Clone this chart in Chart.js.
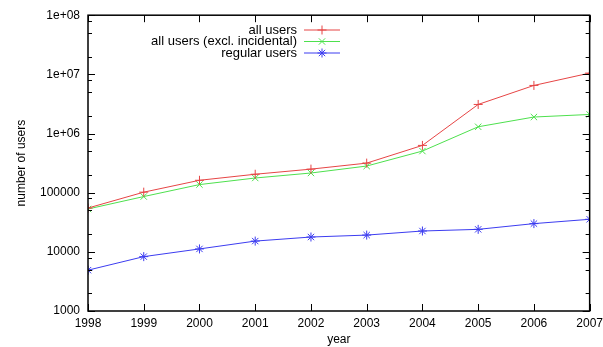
<!DOCTYPE html>
<html>
<head>
<meta charset="utf-8">
<script src="https://cdn.jsdelivr.net/npm/chart.js@4"></script>
<style>
  html, body { margin: 0; padding: 0; background: #fff; overflow: hidden; }
  #wrap { width: 608px; height: 347px; }
</style>
</head>
<body>
<div id="wrap"><canvas id="usersChart"></canvas></div>
<script>
// years on the x axis
const years = [1998, 1999, 2000, 2001, 2002, 2003, 2004, 2005, 2006, 2007];

// series values (log scale)
const allUsers      = [55000, 102000, 162000, 205000, 250000, 316000, 630000, 3100000, 6500000, 10500000];
const allUsersExcl  = [53000, 86000, 137000, 177000, 215000, 282000, 505000, 1300000, 1900000, 2100000];
const regularUsers  = [4900, 8300, 11200, 15200, 17800, 19200, 22500, 24000, 30000, 35500];

// y axis ticks (decades) and their labels, plus minor tick values
const yTickValues = [1000, 10000, 100000, 1000000, 10000000, 100000000];
const yTickLabels = ['1000', '10000', '100000', '1e+06', '1e+07', '1e+08'];
const yMinorMult  = [2, 5, 8];

const seriesNames = ['all users', 'all users (excl. incidental)', 'regular users'];

const FONT = 'Liberation Sans, Arial, sans-serif';

function toPoints(vals) {
    return years.map((yr, i) => ({ x: yr, y: vals[i] }));
}

// gnuplot style frame with inward ticks on all four sides
const framePlugin = {
    id: 'frame',
    afterDatasetsDraw(chart) {
        const ctx = chart.ctx;
        const a = chart.chartArea;
        const xs = chart.scales.x, ys = chart.scales.y;
        ctx.save();
        ctx.strokeStyle = '#000';
        ctx.lineWidth = 1.5;
        ctx.strokeRect(a.left, a.top, a.right - a.left, a.bottom - a.top);
        ctx.lineWidth = 1;
        ctx.beginPath();
        years.forEach(yr => {
            const px = Math.round(xs.getPixelForValue(yr)) + 0.5;
            ctx.moveTo(px, a.bottom); ctx.lineTo(px, a.bottom - 7);
            ctx.moveTo(px, a.top); ctx.lineTo(px, a.top + 7);
        });
        yTickValues.forEach((v, i) => {
            const py = Math.round(ys.getPixelForValue(v)) + 0.5;
            ctx.moveTo(a.left, py); ctx.lineTo(a.left + 7, py);
            ctx.moveTo(a.right, py); ctx.lineTo(a.right - 7, py);
            if (i < yTickValues.length - 1) {
                yMinorMult.forEach(m => {
                    const pm = Math.round(ys.getPixelForValue(v * m)) + 0.5;
                    ctx.moveTo(a.left, pm); ctx.lineTo(a.left + 4, pm);
                    ctx.moveTo(a.right, pm); ctx.lineTo(a.right - 4, pm);
                });
            }
        });
        ctx.stroke();
        ctx.restore();
    }
};

// key in the gnuplot layout: text right aligned, sample line to the right
const keyPlugin = {
    id: 'key',
    afterDatasetsDraw(chart) {
        const ctx = chart.ctx;
        const textRight = 297, lineL = 304, lineR = 340, top = 30, rowH = 11.5;
        ctx.save();
        ctx.font = '13px ' + FONT;
        ctx.textAlign = 'right';
        ctx.textBaseline = 'middle';
        chart.data.datasets.forEach((ds, i) => {
            const y = top + i * rowH;
            ctx.fillStyle = '#000';
            ctx.fillText(ds.label, textRight, y);
            ctx.strokeStyle = ds.borderColor;
            ctx.lineWidth = 1;
            ctx.beginPath();
            ctx.moveTo(lineL, y); ctx.lineTo(lineR, y);
            ctx.stroke();
            Chart.helpers.drawPoint(ctx, {
                pointStyle: ds.pointStyle, radius: ds.pointRadius, borderWidth: 1, rotation: 0
            }, (lineL + lineR) / 2, y);
        });
        ctx.restore();
    }
};

const colors = ['#e64545', '#4ee04e', '#3c3cf0'];
const styles = ['cross', 'crossRot', 'star'];
const values = [allUsers, allUsersExcl, regularUsers];

new Chart(document.getElementById('usersChart'), {
    type: 'line',
    data: {
        datasets: values.map((vals, i) => ({
            label: seriesNames[i],
            data: toPoints(vals),
            borderColor: colors[i],
            backgroundColor: colors[i],
            borderWidth: 1,
            pointStyle: styles[i],
            pointRadius: 4.5,
            pointBorderWidth: 1,
            tension: 0,
            fill: false
        }))
    },
    options: {
        responsive: true,
        maintainAspectRatio: false,
        animation: false,
        layout: { padding: { top: 15, left: 14, right: 0, bottom: 0 } },
        plugins: {
            legend: { display: false },
            tooltip: { enabled: false }
        },
        scales: {
            x: {
                type: 'linear',
                min: 1998,
                max: 2007,
                grid: { display: false, drawTicks: false },
                border: { display: false },
                afterBuildTicks: s => { s.ticks = years.map(v => ({ value: v })); },
                afterFit: s => { s.height = 36; },
                ticks: {
                    color: '#000',
                    font: { family: FONT, size: 12 },
                    padding: 5,
                    maxRotation: 0,
                    callback: v => String(v)
                },
                title: {
                    display: true,
                    text: 'year',
                    color: '#000',
                    font: { family: FONT, size: 12 },
                    padding: { top: 0, bottom: 0 }
                }
            },
            y: {
                type: 'logarithmic',
                min: 1000,
                max: 100000000,
                grid: { display: false, drawTicks: false },
                border: { display: false },
                afterBuildTicks: s => { s.ticks = yTickValues.map(v => ({ value: v })); },
                afterFit: s => { s.width = 74; },
                ticks: {
                    color: '#000',
                    font: { family: FONT, size: 12 },
                    padding: 8,
                    callback: v => yTickLabels[yTickValues.indexOf(v)]
                },
                title: {
                    display: true,
                    text: 'number of users',
                    color: '#000',
                    font: { family: FONT, size: 12 },
                    padding: { top: 0, bottom: 0 }
                }
            }
        }
    },
    plugins: [framePlugin, keyPlugin]
});
</script>
</body>
</html>
